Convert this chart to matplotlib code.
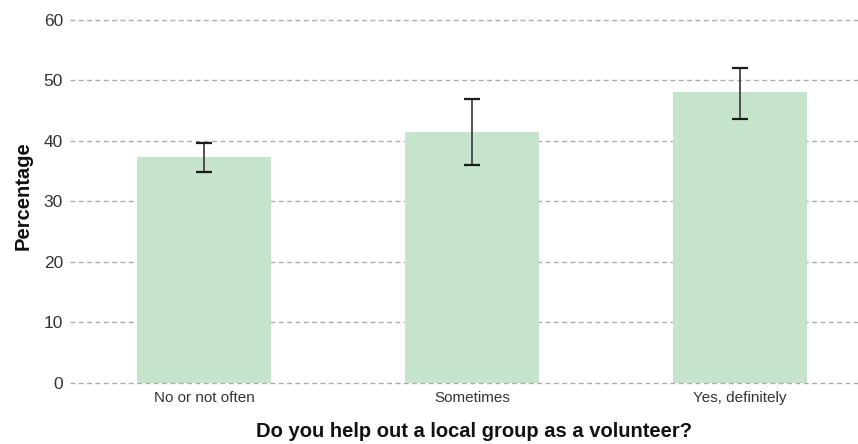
import matplotlib
matplotlib.use("Agg")
import matplotlib.pyplot as plt
import numpy as np

categories = ["No or not often", "Sometimes", "Yes, definitely"]
values = [37.3, 41.5, 48.1]
err_low = [34.9, 36.0, 43.6]
err_high = [39.7, 46.9, 52.1]

plt.rcParams['font.family'] = ['Liberation Sans', 'DejaVu Sans']

W, H = 858, 444
fig = plt.figure(figsize=(W / 100, H / 100), dpi=100)
ax_l, ax_r, ax_t, ax_b = 70, 858, 20, 382.7
ax = fig.add_axes([ax_l / W, (H - ax_b) / H, (ax_r - ax_l) / W, (ax_b - ax_t) / H])

x = np.arange(len(categories))
vals = np.array(values)
yerr = np.array([vals - np.array(err_low), np.array(err_high) - vals])
ax.bar(x, vals, width=0.5, color="#c6e4cc", zorder=2)
eb = ax.errorbar(x, vals, yerr=yerr, fmt="none", ecolor="#444444", elinewidth=1.3,
                 capsize=5.8, capthick=1.6, zorder=3)
for cap in eb[1]:
    cap.set_color("#1a1a1a")
    cap.set_markeredgecolor("#1a1a1a")
    cap.set_markerfacecolor("#1a1a1a")

ax.set_ylim(0, 60)
ax.set_xlim(-0.5, 2.44)
ax.set_yticks(range(0, 61, 10))
ax.yaxis.grid(True, linestyle=(0, (3.5, 2.5)), color="#aaaaaa", linewidth=1, zorder=1)
for gl in ax.get_ygridlines():
    gl.set_clip_on(False)
ax.set_axisbelow(True)
for s in ax.spines.values():
    s.set_visible(False)
ax.tick_params(axis='y', length=0, labelsize=12.5, labelcolor="#333333", pad=5)
ax.tick_params(axis='x', length=0, labelsize=11, labelcolor="#333333", pad=6)
ax.set_xticks(x)
ax.set_xticklabels(categories)

ax.set_ylabel("Percentage", fontsize=14.5, fontweight="bold", color="#111111")
ax.yaxis.set_label_coords((33 - ax_l) / (ax_r - ax_l), (ax_b - 196) / (ax_b - ax_t))

ax.set_xlabel("Do you help out a local group as a volunteer?", fontsize=14.5,
              fontweight="bold", color="#111111")
ax.xaxis.label.set_va("center")
ax.xaxis.set_label_coords((474.5 - ax_l) / (ax_r - ax_l), (ax_b - 431) / (ax_b - ax_t))

fig.savefig("out.png", dpi=100)
